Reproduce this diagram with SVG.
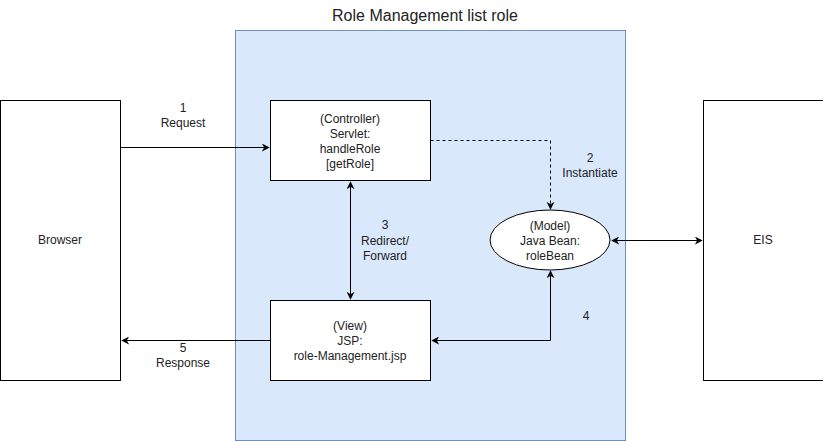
<svg xmlns="http://www.w3.org/2000/svg" width="823" height="441" viewBox="0 0 823 441">
<style>
.box{fill:#fff;stroke:#000;stroke-width:1}
.t{font-family:"Liberation Sans",Arial,sans-serif;font-size:12px;fill:#222;text-anchor:middle}
.ln{fill:none;stroke:#000;stroke-width:1}
</style>
<defs>
<marker id="ah" viewBox="0 0 10 10" refX="9" refY="5" markerWidth="8" markerHeight="8" orient="auto-start-reverse" markerUnits="userSpaceOnUse">
<path d="M0,0 L10,5 L0,10 L3,5 Z" fill="#000"/>
</marker>
</defs>
<rect width="823" height="441" fill="#fff"/>
<g id="container">
<rect x="235.5" y="30.5" width="390" height="410" fill="#dae8fc" stroke="#6c8ebf"/>
<text class="t" x="425" y="21" style="font-size:16px">Role Management list role</text>
</g>
<g id="browser">
<rect class="box" x="0.5" y="100.5" width="120" height="280"/>
<text class="t" x="60" y="244">Browser</text>
</g>
<g id="eis">
<rect class="box" x="703.5" y="100.5" width="120" height="280"/>
<text class="t" x="763" y="244">EIS</text>
</g>
<g id="controller">
<rect class="box" x="270.5" y="100.5" width="160" height="80"/>
<text class="t" x="350" y="123">(Controller)</text>
<text class="t" x="350" y="138">Servlet:</text>
<text class="t" x="350" y="153">handleRole</text>
<text class="t" x="350" y="168">[getRole]</text>
</g>
<g id="view">
<rect class="box" x="270.5" y="300.5" width="160" height="80"/>
<text class="t" x="350" y="330">(View)</text>
<text class="t" x="350" y="345">JSP:</text>
<text class="t" x="350" y="360">role-Management.jsp</text>
</g>
<g id="model">
<ellipse class="box" cx="550" cy="240" rx="60" ry="30"/>
<text class="t" x="550" y="230">(Model)</text>
<text class="t" x="550" y="245">Java Bean:</text>
<text class="t" x="550" y="260">roleBean</text>
</g>
<g id="connectors">
<path class="ln" d="M120.5,147.5 L269,147.5" marker-end="url(#ah)"/>
<path class="ln" d="M430.5,140.5 L550.5,140.5 L550.5,209" stroke-dasharray="3,3" marker-end="url(#ah)"/>
<path class="ln" d="M350.5,182 L350.5,299" marker-start="url(#ah)" marker-end="url(#ah)"/>
<path class="ln" d="M550.5,271 L550.5,340.5 L432,340.5" marker-start="url(#ah)" marker-end="url(#ah)"/>
<path class="ln" d="M612,240.5 L702,240.5" marker-start="url(#ah)" marker-end="url(#ah)"/>
<path class="ln" d="M270,340.5 L122,340.5" marker-end="url(#ah)"/>
<text class="t" x="183" y="112">1</text>
<text class="t" x="183" y="127">Request</text>
<text class="t" x="590" y="162">2</text>
<text class="t" x="590" y="177">Instantiate</text>
<text class="t" x="385" y="229">3</text>
<text class="t" x="385" y="245">Redirect/</text>
<text class="t" x="385" y="260">Forward</text>
<text class="t" x="586" y="320">4</text>
<text class="t" x="183" y="352">5</text>
<text class="t" x="183" y="367">Response</text>
</g>
</svg>
